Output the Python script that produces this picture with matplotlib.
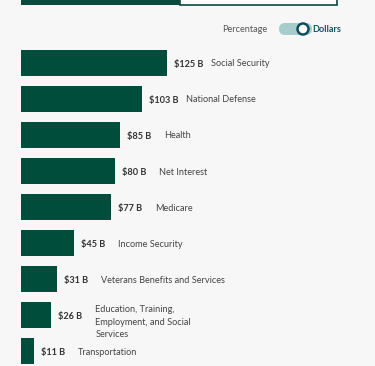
import matplotlib
matplotlib.use("Agg")
import matplotlib.pyplot as plt
from matplotlib.patches import Rectangle, FancyBboxPatch, Circle

categories = ["Social Security", "National Defense", "Health", "Net Interest",
              "Medicare", "Income Security", "Veterans Benefits and Services",
              "Education, Training,\nEmployment, and Social\nServices",
              "Transportation"]
values = [125, 103, 85, 80, 77, 45, 31, 26, 11]
value_labels = ["$125 B", "$103 B", "$85 B", "$80 B", "$77 B", "$45 B",
                "$31 B", "$26 B", "$11 B"]

W, H = 375, 366
BG = "#f7f7f7"
BAR = "#004d3c"
FONT = "Lato"
FS = 6.6

fig = plt.figure(figsize=(W / 100, H / 100), dpi=100, facecolor=BG)

def fx(px):
    return px / W

def fy(py):
    return 1 - py / H

# main axes in pixel layout
left_px, top_px, bottom_px = 21, 45, 366
ax = fig.add_axes([fx(left_px), fy(bottom_px), fx(W - left_px), (bottom_px - top_px) / H])
ax.set_facecolor(BG)
scale = 1.17  # px per unit
ax.set_xlim(0, (W - left_px) / scale)
row = 36
ax.set_ylim((bottom_px - 63) / row, (top_px - 63) / row)
pos = list(range(len(values)))
ax.barh(pos, values, height=26 / row, color=BAR)
for spine in ax.spines.values():
    spine.set_visible(False)
ax.set_xticks([])
ax.set_yticks([])

for i, (v, vl, c) in enumerate(zip(values, value_labels, categories)):
    ax.annotate(vl, xy=(v, i), xytext=(7, -1), textcoords="offset pixels",
                ha="left", va="center", fontsize=FS, fontfamily=FONT,
                fontweight="bold", color="#333333")
    dy = -7 if "\n" in c else -1
    ax.annotate(c, xy=(v, i), xytext=(44, dy), textcoords="offset pixels",
                ha="left", va="center", fontsize=FS, fontfamily=FONT,
                color="#444444", linespacing=1.55)

# overlay axes in pixel coordinates for UI decorations
ax2 = fig.add_axes([0, 0, 1, 1], facecolor="none")
ax2.set_xlim(0, W)
ax2.set_ylim(H, 0)
ax2.axis("off")

# top tab bar (cut off)
ax2.add_patch(Rectangle((21, -5), 159, 10, facecolor="#0b4a3e", edgecolor="none"))
ax2.add_patch(Rectangle((180, -5), 157, 9.5, facecolor="white",
                        edgecolor="#0b4a3e", linewidth=1.2))

# toggle
ax2.text(267, 29, "Percentage", ha="right", va="center", fontsize=FS,
         fontfamily=FONT, color="#555555")
ax2.add_patch(FancyBboxPatch((279, 23), 33, 12,
                             boxstyle="round,pad=0,rounding_size=6",
                             facecolor="#a7cdca", edgecolor="none"))
ax2.add_patch(Circle((303, 29), 5.5, facecolor="white", edgecolor="#0c4f5b",
                     linewidth=1.8))
ax2.text(312, 29, "Dollars", ha="left", va="center", fontsize=FS,
         fontfamily=FONT, fontweight="bold", color="#0c5560")

fig.savefig("out.png", dpi=100, facecolor=BG)
